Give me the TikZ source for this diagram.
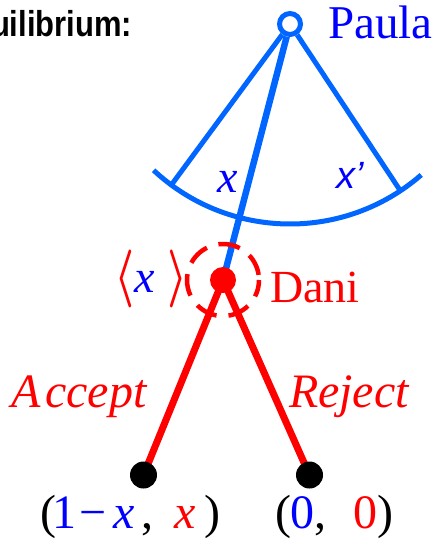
\documentclass[tikz,border=0pt]{standalone}
\usepackage{fontspec}
\setmainfont{Liberation Serif}
\newfontfamily\sansfam{Liberation Sans}
\usetikzlibrary{backgrounds,calc}
\definecolor{lblue}{RGB}{0,102,255}
\definecolor{tblue}{RGB}{0,0,255}
\definecolor{tred}{RGB}{255,0,0}
\newcommand{\fsz}[1]{\fontsize{#1}{#1}\selectfont}
\newcommand{\bigang}[1]{\raisebox{-1pt}{\scalebox{4.5}[5.8]{\fontsize{10}{12}\selectfont\boldmath$#1$}}}
\tikzset{
  txt/.style={anchor=base west, inner sep=0pt, outer sep=0pt},
  bline/.style={draw=lblue, line width=5pt},
  rline/.style={draw=tred, line width=7pt},
  leaf/.style={circle, fill=black, minimum size=27pt, inner sep=0pt},
}
\begin{document}
\begin{tikzpicture}[x=1pt,y=-1pt]
\useasboundingbox (0,0) rectangle (436,544);
% nodes
\node[circle, draw=lblue, line width=5pt, fill=white, minimum size=21pt, inner sep=0pt] (P) at (290,24) {};
\node[circle, fill=tred, minimum size=26pt, inner sep=0pt] (D) at (223,280) {};
\node[leaf] (A) at (143.5,475) {};
\node[leaf] (R) at (309.5,475) {};
\coordinate (L) at ($(P.center)+(126.4:199)$);
\coordinate (Rt) at ($(P.center)+(56.5:199)$);
\begin{pgfonlayer}{background}
\draw[bline] (P) -- (L);
\draw[bline] (P) -- (Rt);
\draw[bline] ($(P.center)+(133:200)$) arc[start angle=133, end angle=49, radius=200];
\draw[bline, line width=6.5pt] (P) -- (D.center);
\draw[draw=tred, line width=4.5pt, dash pattern=on 22pt off 12pt, dash phase=5pt] (D.center) circle[radius=36];
\draw[rline] (D.center) -- (A.center);
\draw[rline] (D.center) -- (R.center);
\end{pgfonlayer}
% texts
\node[txt, font={\sansfam\bfseries\fsz{36}}] (title) at (-9,36) {\scalebox{0.86}[1]{uilibrium:}};
\node[txt, text=tblue, font=\fsz{47}] (paula) at (328,38) {Paula};
\node[txt, text=tred, font=\fsz{46}] (dani) at (270,302) {Dani};
\node[txt, text=tblue, font={\itshape\fsz{46}}] (xl) at (217,192) {x};
\node[txt, text=tblue, font={\sansfam\itshape\fsz{38}}] (xr) at (336,188) {x’};
\node[txt, font=\fsz{46}] (bx) at (114,292) {\textcolor{tred}{\bigang{\langle}}\textcolor{tblue}{\itshape x}\kern13pt\textcolor{tred}{\bigang{\rangle}}};
\node[txt, text=tred, font={\itshape\fsz{48}}] (acc) at (12,407) {A\kern4pt ccept};
\node[txt, text=tred, font={\itshape\fsz{48}}] (rej) at (289,407) {Reject};
\node[txt, font=\fsz{48}] (pay1) at (40,528) {(\kern-3pt\textcolor{tblue}{1\kern3pt−\kern6pt\itshape x}\kern7pt,\kern21pt\textcolor{tred}{\itshape x}\kern9pt)};
\node[txt, font=\fsz{48}] (pay2) at (275,528) {(\textcolor{tblue}{0},\kern27pt\textcolor{tred}{0})};
\end{tikzpicture}
\end{document}
